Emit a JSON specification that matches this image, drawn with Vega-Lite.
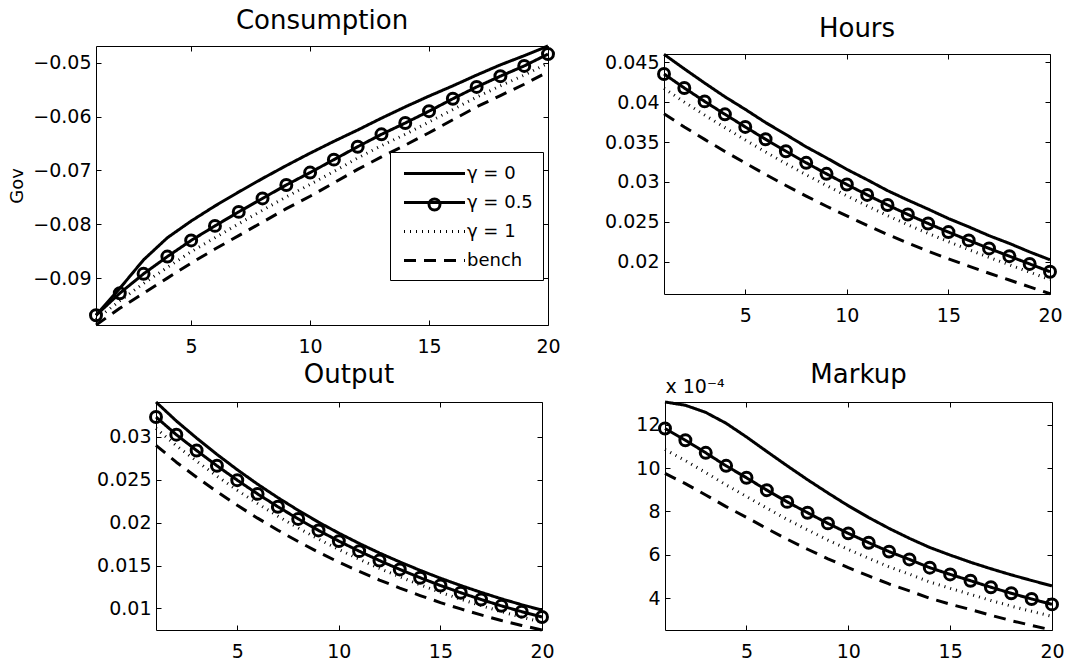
{
  "$schema": "https://vega.github.io/schema/vega-lite/v6.json",
  "padding": {"left": 8, "top": 7, "right": 2, "bottom": 2},
  "background": "white",
  "config": {
    "font": "DejaVu Sans",
    "view": {"stroke": "#000", "strokeWidth": 1},
    "axis": {"domain": false, "grid": false, "tickSize": -5, "tickColor": "#000", "tickWidth": 1, "labelFont": "DejaVu Sans", "labelFontSize": 19, "labelColor": "#000", "labelPadding": 10, "labelFlush": false, "labelOverlap": false, "titleFont": "DejaVu Sans", "titleFontSize": 18, "titleFontWeight": "normal", "titleColor": "#000"},
    "title": {"font": "DejaVu Sans", "fontSize": 26, "fontWeight": "normal", "color": "#000", "baseline": "alphabetic", "offset": 9, "anchor": "middle", "frame": "group"}
  },
  "datasets": {
    "cons": [
      {"series":"γ = 0","t":1,"v":-0.0969},{"series":"γ = 0","t":2,"v":-0.0919},{"series":"γ = 0","t":3,"v":-0.0866},{"series":"γ = 0","t":4,"v":-0.0825},{"series":"γ = 0","t":5,"v":-0.0794},{"series":"γ = 0","t":6,"v":-0.0766},{"series":"γ = 0","t":7,"v":-0.0740},{"series":"γ = 0","t":8,"v":-0.0715},{"series":"γ = 0","t":9,"v":-0.0691},{"series":"γ = 0","t":10,"v":-0.0668},{"series":"γ = 0","t":11,"v":-0.0646},{"series":"γ = 0","t":12,"v":-0.0625},{"series":"γ = 0","t":13,"v":-0.0603},{"series":"γ = 0","t":14,"v":-0.0582},{"series":"γ = 0","t":15,"v":-0.0562},{"series":"γ = 0","t":16,"v":-0.0543},{"series":"γ = 0","t":17,"v":-0.0523},{"series":"γ = 0","t":18,"v":-0.0504},{"series":"γ = 0","t":19,"v":-0.0487},{"series":"γ = 0","t":20,"v":-0.0469},
      {"series":"γ = 0.5","t":1,"v":-0.0969},{"series":"γ = 0.5","t":2,"v":-0.0928},{"series":"γ = 0.5","t":3,"v":-0.0892},{"series":"γ = 0.5","t":4,"v":-0.0860},{"series":"γ = 0.5","t":5,"v":-0.0830},{"series":"γ = 0.5","t":6,"v":-0.0803},{"series":"γ = 0.5","t":7,"v":-0.0777},{"series":"γ = 0.5","t":8,"v":-0.0752},{"series":"γ = 0.5","t":9,"v":-0.0727},{"series":"γ = 0.5","t":10,"v":-0.0704},{"series":"γ = 0.5","t":11,"v":-0.0680},{"series":"γ = 0.5","t":12,"v":-0.0656},{"series":"γ = 0.5","t":13,"v":-0.0633},{"series":"γ = 0.5","t":14,"v":-0.0612},{"series":"γ = 0.5","t":15,"v":-0.0590},{"series":"γ = 0.5","t":16,"v":-0.0567},{"series":"γ = 0.5","t":17,"v":-0.0545},{"series":"γ = 0.5","t":18,"v":-0.0525},{"series":"γ = 0.5","t":19,"v":-0.0506},{"series":"γ = 0.5","t":20,"v":-0.0484},
      {"series":"γ = 1","t":1,"v":-0.0977},{"series":"γ = 1","t":2,"v":-0.0942},{"series":"γ = 1","t":3,"v":-0.0910},{"series":"γ = 1","t":4,"v":-0.0880},{"series":"γ = 1","t":5,"v":-0.0851},{"series":"γ = 1","t":6,"v":-0.0825},{"series":"γ = 1","t":7,"v":-0.0799},{"series":"γ = 1","t":8,"v":-0.0774},{"series":"γ = 1","t":9,"v":-0.0749},{"series":"γ = 1","t":10,"v":-0.0726},{"series":"γ = 1","t":11,"v":-0.0702},{"series":"γ = 1","t":12,"v":-0.0677},{"series":"γ = 1","t":13,"v":-0.0654},{"series":"γ = 1","t":14,"v":-0.0633},{"series":"γ = 1","t":15,"v":-0.0610},{"series":"γ = 1","t":16,"v":-0.0587},{"series":"γ = 1","t":17,"v":-0.0564},{"series":"γ = 1","t":18,"v":-0.0543},{"series":"γ = 1","t":19,"v":-0.0523},{"series":"γ = 1","t":20,"v":-0.0501},
      {"series":"bench","t":1,"v":-0.0987},{"series":"bench","t":2,"v":-0.0956},{"series":"bench","t":3,"v":-0.0928},{"series":"bench","t":4,"v":-0.0900},{"series":"bench","t":5,"v":-0.0872},{"series":"bench","t":6,"v":-0.0846},{"series":"bench","t":7,"v":-0.0821},{"series":"bench","t":8,"v":-0.0796},{"series":"bench","t":9,"v":-0.0771},{"series":"bench","t":10,"v":-0.0748},{"series":"bench","t":11,"v":-0.0723},{"series":"bench","t":12,"v":-0.0698},{"series":"bench","t":13,"v":-0.0675},{"series":"bench","t":14,"v":-0.0653},{"series":"bench","t":15,"v":-0.0630},{"series":"bench","t":16,"v":-0.0606},{"series":"bench","t":17,"v":-0.0582},{"series":"bench","t":18,"v":-0.0561},{"series":"bench","t":19,"v":-0.0540},{"series":"bench","t":20,"v":-0.0517}
    ],
    "hours": [
      {"series":"γ = 0","t":1,"v":0.0460},{"series":"γ = 0","t":2,"v":0.04418},{"series":"γ = 0","t":3,"v":0.04240},{"series":"γ = 0","t":4,"v":0.04068},{"series":"γ = 0","t":5,"v":0.03910},{"series":"γ = 0","t":6,"v":0.03745},{"series":"γ = 0","t":7,"v":0.03595},{"series":"γ = 0","t":8,"v":0.03440},{"series":"γ = 0","t":9,"v":0.03302},{"series":"γ = 0","t":10,"v":0.03158},{"series":"γ = 0","t":11,"v":0.03028},{"series":"γ = 0","t":12,"v":0.02892},{"series":"γ = 0","t":13,"v":0.02773},{"series":"γ = 0","t":14,"v":0.02660},{"series":"γ = 0","t":15,"v":0.02542},{"series":"γ = 0","t":16,"v":0.02438},{"series":"γ = 0","t":17,"v":0.02327},{"series":"γ = 0","t":18,"v":0.02230},{"series":"γ = 0","t":19,"v":0.02123},{"series":"γ = 0","t":20,"v":0.02025},
      {"series":"γ = 0.5","t":1,"v":0.04354},{"series":"γ = 0.5","t":2,"v":0.04178},{"series":"γ = 0.5","t":3,"v":0.04010},{"series":"γ = 0.5","t":4,"v":0.03848},{"series":"γ = 0.5","t":5,"v":0.03690},{"series":"γ = 0.5","t":6,"v":0.03535},{"series":"γ = 0.5","t":7,"v":0.03385},{"series":"γ = 0.5","t":8,"v":0.03240},{"series":"γ = 0.5","t":9,"v":0.03102},{"series":"γ = 0.5","t":10,"v":0.02968},{"series":"γ = 0.5","t":11,"v":0.02838},{"series":"γ = 0.5","t":12,"v":0.02712},{"series":"γ = 0.5","t":13,"v":0.02593},{"series":"γ = 0.5","t":14,"v":0.02480},{"series":"γ = 0.5","t":15,"v":0.02372},{"series":"γ = 0.5","t":16,"v":0.02268},{"series":"γ = 0.5","t":17,"v":0.02167},{"series":"γ = 0.5","t":18,"v":0.02070},{"series":"γ = 0.5","t":19,"v":0.01973},{"series":"γ = 0.5","t":20,"v":0.01875},
      {"series":"γ = 1","t":1,"v":0.04174},{"series":"γ = 1","t":2,"v":0.04002},{"series":"γ = 1","t":3,"v":0.03839},{"series":"γ = 1","t":4,"v":0.03681},{"series":"γ = 1","t":5,"v":0.03527},{"series":"γ = 1","t":6,"v":0.03376},{"series":"γ = 1","t":7,"v":0.03231},{"series":"γ = 1","t":8,"v":0.03090},{"series":"γ = 1","t":9,"v":0.02956},{"series":"γ = 1","t":10,"v":0.02826},{"series":"γ = 1","t":11,"v":0.02701},{"series":"γ = 1","t":12,"v":0.02579},{"series":"γ = 1","t":13,"v":0.02464},{"series":"γ = 1","t":14,"v":0.02355},{"series":"γ = 1","t":15,"v":0.02252},{"series":"γ = 1","t":16,"v":0.02152},{"series":"γ = 1","t":17,"v":0.02055},{"series":"γ = 1","t":18,"v":0.01962},{"series":"γ = 1","t":19,"v":0.01870},{"series":"γ = 1","t":20,"v":0.01776},
      {"series":"bench","t":1,"v":0.03854},{"series":"bench","t":2,"v":0.03690},{"series":"bench","t":3,"v":0.03534},{"series":"bench","t":4,"v":0.03383},{"series":"bench","t":5,"v":0.03237},{"series":"bench","t":6,"v":0.03094},{"series":"bench","t":7,"v":0.02956},{"series":"bench","t":8,"v":0.02823},{"series":"bench","t":9,"v":0.02696},{"series":"bench","t":10,"v":0.02574},{"series":"bench","t":11,"v":0.02456},{"series":"bench","t":12,"v":0.02342},{"series":"bench","t":13,"v":0.02235},{"series":"bench","t":14,"v":0.02133},{"series":"bench","t":15,"v":0.02037},{"series":"bench","t":16,"v":0.01945},{"series":"bench","t":17,"v":0.01856},{"series":"bench","t":18,"v":0.01771},{"series":"bench","t":19,"v":0.01685},{"series":"bench","t":20,"v":0.01599}
    ],
    "output": [
      {"series":"γ = 0","t":1,"v":0.03408},{"series":"γ = 0","t":2,"v":0.03187},{"series":"γ = 0","t":3,"v":0.02987},{"series":"γ = 0","t":4,"v":0.02797},{"series":"γ = 0","t":5,"v":0.02618},{"series":"γ = 0","t":6,"v":0.02449},{"series":"γ = 0","t":7,"v":0.02292},{"series":"γ = 0","t":8,"v":0.02144},{"series":"γ = 0","t":9,"v":0.02006},{"series":"γ = 0","t":10,"v":0.01878},{"series":"γ = 0","t":11,"v":0.01758},{"series":"γ = 0","t":12,"v":0.01646},{"series":"γ = 0","t":13,"v":0.01542},{"series":"γ = 0","t":14,"v":0.01444},{"series":"γ = 0","t":15,"v":0.01352},{"series":"γ = 0","t":16,"v":0.01267},{"series":"γ = 0","t":17,"v":0.01187},{"series":"γ = 0","t":18,"v":0.01112},{"series":"γ = 0","t":19,"v":0.01043},{"series":"γ = 0","t":20,"v":0.00980},
      {"series":"γ = 0.5","t":1,"v":0.03233},{"series":"γ = 0.5","t":2,"v":0.03027},{"series":"γ = 0.5","t":3,"v":0.02842},{"series":"γ = 0.5","t":4,"v":0.02664},{"series":"γ = 0.5","t":5,"v":0.02496},{"series":"γ = 0.5","t":6,"v":0.02336},{"series":"γ = 0.5","t":7,"v":0.02186},{"series":"γ = 0.5","t":8,"v":0.02044},{"series":"γ = 0.5","t":9,"v":0.01910},{"series":"γ = 0.5","t":10,"v":0.01785},{"series":"γ = 0.5","t":11,"v":0.01668},{"series":"γ = 0.5","t":12,"v":0.01558},{"series":"γ = 0.5","t":13,"v":0.01455},{"series":"γ = 0.5","t":14,"v":0.01358},{"series":"γ = 0.5","t":15,"v":0.01267},{"series":"γ = 0.5","t":16,"v":0.01183},{"series":"γ = 0.5","t":17,"v":0.01104},{"series":"γ = 0.5","t":18,"v":0.01030},{"series":"γ = 0.5","t":19,"v":0.00962},{"series":"γ = 0.5","t":20,"v":0.00900},
      {"series":"γ = 1","t":1,"v":0.03101},{"series":"γ = 1","t":2,"v":0.02899},{"series":"γ = 1","t":3,"v":0.02718},{"series":"γ = 1","t":4,"v":0.02543},{"series":"γ = 1","t":5,"v":0.02379},{"series":"γ = 1","t":6,"v":0.02223},{"series":"γ = 1","t":7,"v":0.02076},{"series":"γ = 1","t":8,"v":0.01938},{"series":"γ = 1","t":9,"v":0.01808},{"series":"γ = 1","t":10,"v":0.01687},{"series":"γ = 1","t":11,"v":0.01574},{"series":"γ = 1","t":12,"v":0.01467},{"series":"γ = 1","t":13,"v":0.01368},{"series":"γ = 1","t":14,"v":0.01275},{"series":"γ = 1","t":15,"v":0.01187},{"series":"γ = 1","t":16,"v":0.01107},{"series":"γ = 1","t":17,"v":0.01032},{"series":"γ = 1","t":18,"v":0.00962},{"series":"γ = 1","t":19,"v":0.00898},{"series":"γ = 1","t":20,"v":0.00839},
      {"series":"bench","t":1,"v":0.02903},{"series":"bench","t":2,"v":0.02706},{"series":"bench","t":3,"v":0.02531},{"series":"bench","t":4,"v":0.02362},{"series":"bench","t":5,"v":0.02203},{"series":"bench","t":6,"v":0.02053},{"series":"bench","t":7,"v":0.01912},{"series":"bench","t":8,"v":0.01780},{"series":"bench","t":9,"v":0.01655},{"series":"bench","t":10,"v":0.01539},{"series":"bench","t":11,"v":0.01432},{"series":"bench","t":12,"v":0.01331},{"series":"bench","t":13,"v":0.01237},{"series":"bench","t":14,"v":0.01150},{"series":"bench","t":15,"v":0.01068},{"series":"bench","t":16,"v":0.00994},{"series":"bench","t":17,"v":0.00924},{"series":"bench","t":18,"v":0.00859},{"series":"bench","t":19,"v":0.00801},{"series":"bench","t":20,"v":0.00748}
    ],
    "markup": [
      {"series":"γ = 0","t":1,"v":0.001304},{"series":"γ = 0","t":2,"v":0.001289},{"series":"γ = 0","t":3,"v":0.001256},{"series":"γ = 0","t":4,"v":0.001206},{"series":"γ = 0","t":5,"v":0.001143},{"series":"γ = 0","t":6,"v":0.001076},{"series":"γ = 0","t":7,"v":0.001010},{"series":"γ = 0","t":8,"v":0.000946},{"series":"γ = 0","t":9,"v":0.000885},{"series":"γ = 0","t":10,"v":0.000826},{"series":"γ = 0","t":11,"v":0.000772},{"series":"γ = 0","t":12,"v":0.000722},{"series":"γ = 0","t":13,"v":0.000676},{"series":"γ = 0","t":14,"v":0.000634},{"series":"γ = 0","t":15,"v":0.000599},{"series":"γ = 0","t":16,"v":0.000566},{"series":"γ = 0","t":17,"v":0.000536},{"series":"γ = 0","t":18,"v":0.000508},{"series":"γ = 0","t":19,"v":0.000482},{"series":"γ = 0","t":20,"v":0.000457},
      {"series":"γ = 0.5","t":1,"v":0.001182},{"series":"γ = 0.5","t":2,"v":0.001128},{"series":"γ = 0.5","t":3,"v":0.001070},{"series":"γ = 0.5","t":4,"v":0.001010},{"series":"γ = 0.5","t":5,"v":0.000955},{"series":"γ = 0.5","t":6,"v":0.000898},{"series":"γ = 0.5","t":7,"v":0.000844},{"series":"γ = 0.5","t":8,"v":0.000794},{"series":"γ = 0.5","t":9,"v":0.000745},{"series":"γ = 0.5","t":10,"v":0.000699},{"series":"γ = 0.5","t":11,"v":0.000656},{"series":"γ = 0.5","t":12,"v":0.000615},{"series":"γ = 0.5","t":13,"v":0.000579},{"series":"γ = 0.5","t":14,"v":0.000541},{"series":"γ = 0.5","t":15,"v":0.000510},{"series":"γ = 0.5","t":16,"v":0.000481},{"series":"γ = 0.5","t":17,"v":0.000451},{"series":"γ = 0.5","t":18,"v":0.000423},{"series":"γ = 0.5","t":19,"v":0.000397},{"series":"γ = 0.5","t":20,"v":0.000372},
      {"series":"γ = 1","t":1,"v":0.001085},{"series":"γ = 1","t":2,"v":0.001034},{"series":"γ = 1","t":3,"v":0.000979},{"series":"γ = 1","t":4,"v":0.000922},{"series":"γ = 1","t":5,"v":0.000869},{"series":"γ = 1","t":6,"v":0.000815},{"series":"γ = 1","t":7,"v":0.000763},{"series":"γ = 1","t":8,"v":0.000715},{"series":"γ = 1","t":9,"v":0.000668},{"series":"γ = 1","t":10,"v":0.000625},{"series":"γ = 1","t":11,"v":0.000584},{"series":"γ = 1","t":12,"v":0.000545},{"series":"γ = 1","t":13,"v":0.000511},{"series":"γ = 1","t":14,"v":0.000475},{"series":"γ = 1","t":15,"v":0.000446},{"series":"γ = 1","t":16,"v":0.000418},{"series":"γ = 1","t":17,"v":0.000390},{"series":"γ = 1","t":18,"v":0.000364},{"series":"γ = 1","t":19,"v":0.000340},{"series":"γ = 1","t":20,"v":0.000317},
      {"series":"bench","t":1,"v":0.000975},{"series":"bench","t":2,"v":0.000928},{"series":"bench","t":3,"v":0.000876},{"series":"bench","t":4,"v":0.000822},{"series":"bench","t":5,"v":0.000773},{"series":"bench","t":6,"v":0.000721},{"series":"bench","t":7,"v":0.000672},{"series":"bench","t":8,"v":0.000626},{"series":"bench","t":9,"v":0.000582},{"series":"bench","t":10,"v":0.000541},{"series":"bench","t":11,"v":0.000503},{"series":"bench","t":12,"v":0.000466},{"series":"bench","t":13,"v":0.000434},{"series":"bench","t":14,"v":0.000400},{"series":"bench","t":15,"v":0.000373},{"series":"bench","t":16,"v":0.000348},{"series":"bench","t":17,"v":0.000322},{"series":"bench","t":18,"v":0.000297},{"series":"bench","t":19,"v":0.000275},{"series":"bench","t":20,"v":0.000254}
    ]
  },
  "spacing": 4,
  "resolve": {"scale": {"strokeDash": "independent", "shape": "independent"}, "legend": {"strokeDash": "independent", "shape": "independent"}},
  "vconcat": [
    {
      "spacing": 43,
      "resolve": {"scale": {"strokeDash": "independent", "shape": "independent"}, "legend": {"strokeDash": "independent", "shape": "independent"}},
      "hconcat": [
        {
          "width": 452, "height": 279,
          "title": {"text": "Consumption"},
          "data": {"name": "cons"},
          "layer": [
            {
              "mark": {"type": "line", "strokeWidth": 3, "color": "#000", "strokeCap": "butt", "strokeJoin": "round"},
              "encoding": {
                "x": {"field": "t", "type": "quantitative", "scale": {"domain": [1, 20], "nice": false, "zero": false}, "axis": {"orient": "bottom", "values": [5, 10, 15, 20], "format": "d", "title": null, "labelPadding": 17}},
                "y": {"field": "v", "type": "quantitative", "scale": {"domain": [-0.0987, -0.0469], "nice": false, "zero": false}, "axis": {"orient": "left", "values": [-0.09, -0.08, -0.07, -0.06, -0.05], "format": ".2f", "title": "Gov", "titlePadding": 6}},
                "strokeDash": {"field": "series", "type": "nominal", "scale": {"domain": ["γ = 0", "γ = 0.5", "γ = 1", "bench"], "range": [[1, 0], [1, 0], [1, 5], [12, 8]]},
                  "legend": {"orient": "none", "legendX": 294, "legendY": 106, "direction": "vertical", "title": null, "padding": 10, "strokeColor": "#000", "fillColor": "#fff", "symbolType": "M-0.75,0H5.35", "symbolSize": 400, "symbolStrokeWidth": 3, "symbolStrokeColor": "#000", "symbolFillColor": "transparent", "labelFont": "DejaVu Sans", "labelFontSize": 18, "labelColor": "#000", "labelOffset": 44, "rowPadding": 8, "labelLimit": 300}}
              }
            },
            {
              "transform": [{"filter": "datum.series === 'γ = 0.5'"}],
              "mark": {"type": "point", "filled": false, "size": 120, "strokeWidth": 3, "color": "#000", "opacity": 1},
              "encoding": {
                "x": {"field": "t", "type": "quantitative", "scale": {"domain": [1, 20], "nice": false, "zero": false}, "axis": {"orient": "top", "values": [5, 10, 15, 20], "labels": false, "title": null}},
                "y": {"field": "v", "type": "quantitative", "scale": {"domain": [-0.0987, -0.0469], "nice": false, "zero": false}, "axis": {"orient": "right", "values": [-0.09, -0.08, -0.07, -0.06, -0.05], "labels": false, "title": null}},
                "shape": {"field": "series", "type": "nominal", "scale": {"domain": ["γ = 0.5"], "range": ["circle"]},
                  "legend": {"orient": "none", "legendX": 329.5, "legendY": 149.5, "direction": "vertical", "title": null, "padding": 0, "labelExpr": "''", "symbolSize": 120, "symbolStrokeWidth": 3, "symbolStrokeColor": "#000", "symbolFillColor": "transparent", "labelFontSize": 18}}
              }
            }
          ],
          "resolve": {"axis": {"x": "independent", "y": "independent"}}
        },
        {
          "spacing": -32,
          "resolve": {"scale": {"strokeDash": "independent", "shape": "independent"}, "legend": {"strokeDash": "independent", "shape": "independent"}},
          "vconcat": [
            {"width": 1, "height": 1, "view": {"stroke": null}, "data": {"values": []}, "mark": {"type": "point", "opacity": 0}},
            {
              "width": 386, "height": 240,
              "title": {"text": "Hours", "offset": 11},
              "data": {"name": "hours"},
              "layer": [
                {
                  "mark": {"type": "line", "strokeWidth": 3, "color": "#000", "strokeCap": "butt", "strokeJoin": "round"},
                  "encoding": {
                    "x": {"field": "t", "type": "quantitative", "scale": {"domain": [1, 20], "nice": false, "zero": false}, "axis": {"orient": "bottom", "values": [5, 10, 15, 20], "format": "d", "title": null, "labelPadding": 17}},
                    "y": {"field": "v", "type": "quantitative", "scale": {"domain": [0.01596, 0.04604], "nice": false, "zero": false}, "axis": {"orient": "left", "values": [0.02, 0.025, 0.03, 0.035, 0.04, 0.045], "format": "~g", "title": null}},
                    "strokeDash": {"field": "series", "type": "nominal", "scale": {"domain": ["γ = 0", "γ = 0.5", "γ = 1", "bench"], "range": [[1, 0], [1, 0], [1, 5], [12, 8]]}, "legend": null}
                  }
                },
                {
                  "transform": [{"filter": "datum.series === 'γ = 0.5'"}],
                  "mark": {"type": "point", "shape": "circle", "filled": false, "size": 120, "strokeWidth": 3, "color": "#000", "opacity": 1},
                  "encoding": {
                    "x": {"field": "t", "type": "quantitative", "scale": {"domain": [1, 20], "nice": false, "zero": false}, "axis": {"orient": "top", "values": [5, 10, 15, 20], "labels": false, "title": null}},
                    "y": {"field": "v", "type": "quantitative", "scale": {"domain": [0.01596, 0.04604], "nice": false, "zero": false}, "axis": {"orient": "right", "values": [0.02, 0.025, 0.03, 0.035, 0.04, 0.045], "labels": false, "title": null}}
                  }
                }
              ],
              "resolve": {"axis": {"x": "independent", "y": "independent"}}
            }
          ]
        }
      ]
    },
    {
      "spacing": -1,
      "resolve": {"scale": {"strokeDash": "independent", "shape": "independent"}, "legend": {"strokeDash": "independent", "shape": "independent"}},
      "hconcat": [
        {"width": 1, "height": 1, "view": {"stroke": null}, "data": {"values": []}, "mark": {"type": "point", "opacity": 0}},
        {
          "spacing": 80,
          "resolve": {"scale": {"strokeDash": "independent", "shape": "independent"}, "legend": {"strokeDash": "independent", "shape": "independent"}},
          "hconcat": [
            {
              "width": 386, "height": 228,
              "title": {"text": "Output", "offset": 13},
              "data": {"name": "output"},
              "layer": [
                {
                  "mark": {"type": "line", "strokeWidth": 3, "color": "#000", "strokeCap": "butt", "strokeJoin": "round"},
                  "encoding": {
                    "x": {"field": "t", "type": "quantitative", "scale": {"domain": [1, 20], "nice": false, "zero": false}, "axis": {"orient": "bottom", "values": [5, 10, 15, 20], "format": "d", "title": null, "labelPadding": 17}},
                    "y": {"field": "v", "type": "quantitative", "scale": {"domain": [0.00748, 0.03408], "nice": false, "zero": false}, "axis": {"orient": "left", "values": [0.01, 0.015, 0.02, 0.025, 0.03], "format": "~g", "title": null}},
                    "strokeDash": {"field": "series", "type": "nominal", "scale": {"domain": ["γ = 0", "γ = 0.5", "γ = 1", "bench"], "range": [[1, 0], [1, 0], [1, 5], [12, 8]]}, "legend": null}
                  }
                },
                {
                  "transform": [{"filter": "datum.series === 'γ = 0.5'"}],
                  "mark": {"type": "point", "shape": "circle", "filled": false, "size": 120, "strokeWidth": 3, "color": "#000", "opacity": 1},
                  "encoding": {
                    "x": {"field": "t", "type": "quantitative", "scale": {"domain": [1, 20], "nice": false, "zero": false}, "axis": {"orient": "top", "values": [5, 10, 15, 20], "labels": false, "title": null}},
                    "y": {"field": "v", "type": "quantitative", "scale": {"domain": [0.00748, 0.03408], "nice": false, "zero": false}, "axis": {"orient": "right", "values": [0.01, 0.015, 0.02, 0.025, 0.03], "labels": false, "title": null}}
                  }
                }
              ],
              "resolve": {"axis": {"x": "independent", "y": "independent"}}
            },
            {
              "width": 387, "height": 228,
              "title": {"text": "Markup", "offset": -11},
              "data": {"name": "markup"},
              "layer": [
                {
                  "mark": {"type": "line", "strokeWidth": 3, "color": "#000", "strokeCap": "butt", "strokeJoin": "round"},
                  "encoding": {
                    "x": {"field": "t", "type": "quantitative", "scale": {"domain": [1, 20], "nice": false, "zero": false}, "axis": {"orient": "bottom", "values": [5, 10, 15, 20], "format": "d", "title": null, "labelPadding": 17}},
                    "y": {"field": "v", "type": "quantitative", "scale": {"domain": [0.000254, 0.001304], "nice": false, "zero": false}, "axis": {"orient": "left", "values": [0.0004, 0.0006, 0.0008, 0.001, 0.0012], "labelExpr": "format(datum.value * 10000, 'd')", "title": "x 10⁻⁴", "titleFontSize": 19, "titleAngle": 0, "titleAlign": "left", "titleBaseline": "alphabetic", "titleX": 0, "titleY": -10}},
                    "strokeDash": {"field": "series", "type": "nominal", "scale": {"domain": ["γ = 0", "γ = 0.5", "γ = 1", "bench"], "range": [[1, 0], [1, 0], [1, 5], [12, 8]]}, "legend": null}
                  }
                },
                {
                  "transform": [{"filter": "datum.series === 'γ = 0.5'"}],
                  "mark": {"type": "point", "shape": "circle", "filled": false, "size": 120, "strokeWidth": 3, "color": "#000", "opacity": 1},
                  "encoding": {
                    "x": {"field": "t", "type": "quantitative", "scale": {"domain": [1, 20], "nice": false, "zero": false}, "axis": {"orient": "top", "values": [5, 10, 15, 20], "labels": false, "title": null}},
                    "y": {"field": "v", "type": "quantitative", "scale": {"domain": [0.000254, 0.001304], "nice": false, "zero": false}, "axis": {"orient": "right", "values": [0.0004, 0.0006, 0.0008, 0.001, 0.0012], "labels": false, "title": null}}
                  }
                }
              ],
              "resolve": {"axis": {"x": "independent", "y": "independent"}}
            }
          ]
        }
      ]
    }
  ]
}
